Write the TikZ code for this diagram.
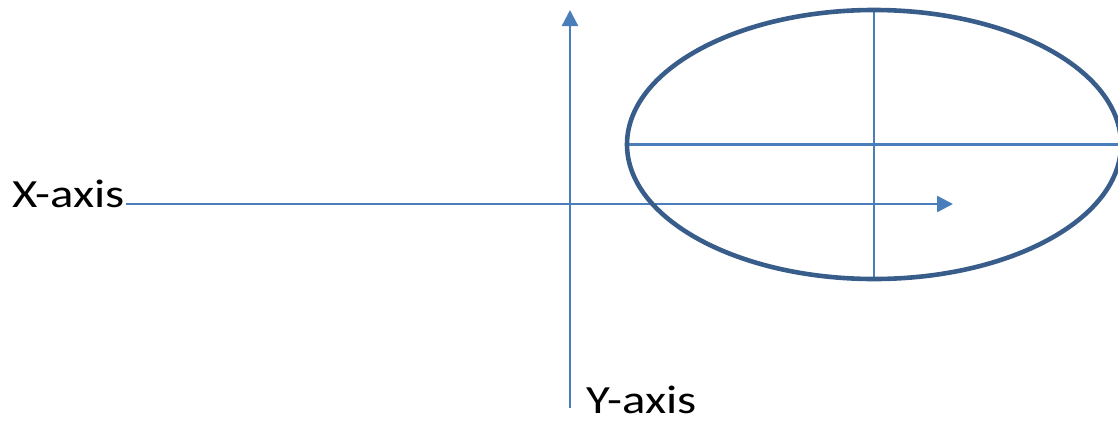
\documentclass[tikz,border=0pt]{standalone}
\usepackage{fontspec}
\setmainfont{Carlito}
\usetikzlibrary{arrows.meta}
\definecolor{axisblue}{HTML}{4A7EBB}
\definecolor{ellblue}{HTML}{385D8A}
\tikzset{
  axisline/.style={draw=axisblue, line width=2.4pt, -{Triangle[width=16pt,length=16pt]}},
  innerline/.style={draw=axisblue, line width=2.2pt},
  ellline/.style={draw=ellblue, line width=4.6pt},
  lbl/.style={inner sep=0pt, font=\fontsize{40}{46}\selectfont, xscale=1.22}
}
\begin{document}
\begin{tikzpicture}[x=1pt,y=-1pt]
\useasboundingbox (0,0) rectangle (1118,421);
% labels
\node[lbl, anchor=base west] (xlab) at (12,207) {X-axis};
\node[lbl, anchor=base west] (ylab) at (586,413) {Y-axis};
% axes
\coordinate (xend) at (953,204);
\coordinate (ytop) at (570,10);
\coordinate (ybot) at (570,408);
\draw[axisline] (xlab.east |- xend) ++(1,0) -- (xend);
\draw[axisline] (ybot) -- (ytop);
% ellipse
\coordinate (c) at (874,144.5);
\coordinate (el) at (627,144.5);
\coordinate (er) at (1121,144.5);
\coordinate (et) at (874,10);
\coordinate (eb) at (874,279);
\draw[innerline] (el) -- (er);
\draw[innerline] (et) -- (eb);
\draw[ellline] (c) ellipse [x radius=247, y radius=134.5];
\end{tikzpicture}
\end{document}
